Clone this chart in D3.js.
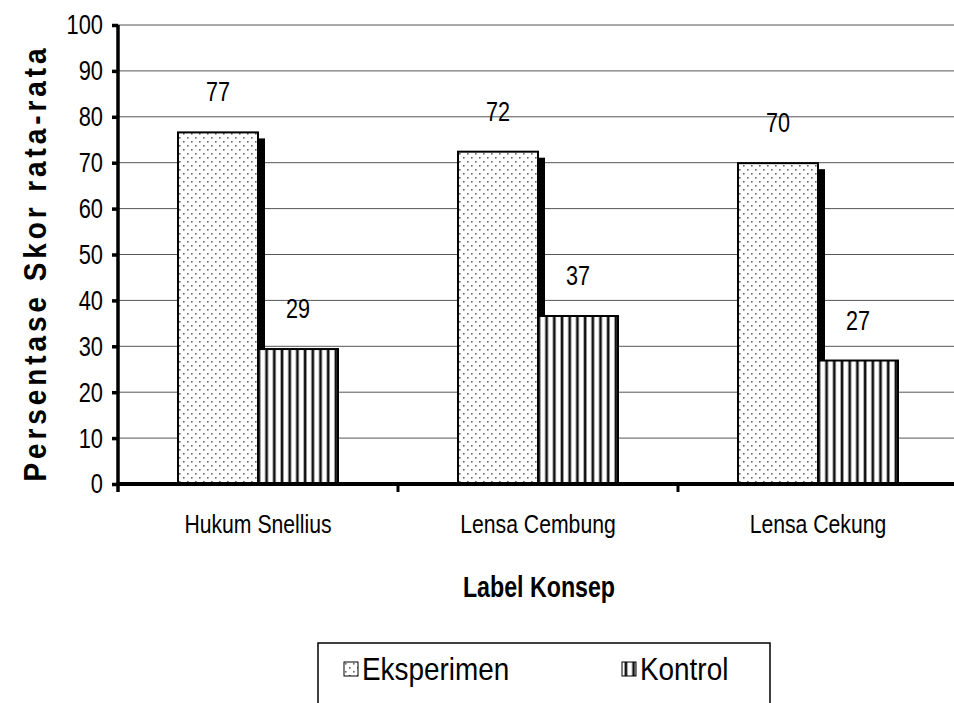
<!DOCTYPE html>
<html>
<head>
<style>
  body { margin: 0; background: #fff; }
  svg text { font-family: "Liberation Sans", Arial, sans-serif; }
</style>
</head>
<body>
<svg id="svg" width="954" height="703"></svg>
<script src="https://d3js.org/d3.v7.min.js"></script>
<script>
const categories = ['Hukum Snellius', 'Lensa Cembung', 'Lensa Cekung']
const series = ['Eksperimen', 'Kontrol']
const eksperimen = [76.6, 72.4, 69.9]
const kontrol = [29.4, 36.6, 26.9]
const valueLabels = [[77, 29], [72, 37], [70, 27]]
const yTicks = [0, 10, 20, 30, 40, 50, 60, 70, 80, 90, 100]

const margin = { top: 25, right: -4, bottom: 219, left: 118 }
const width = 954 - margin.left - margin.right
const height = 703 - margin.top - margin.bottom
const NARROW = 0.8 // fake Arial Narrow by squeezing Liberation Sans

const svg = d3.select('#svg')
const defs = svg.append('defs')

// dotted fill
const dots = defs.append('pattern').attr('id', 'dots')
  .attr('patternUnits', 'userSpaceOnUse').attr('width', 8).attr('height', 8)
dots.append('rect').attr('width', 8).attr('height', 8).attr('fill', '#fff')
dots.append('rect').attr('x', 1).attr('y', 1).attr('width', 1.6).attr('height', 1.6).attr('fill', '#666')
dots.append('rect').attr('x', 5).attr('y', 5).attr('width', 1.6).attr('height', 1.6).attr('fill', '#666')

// vertical stripes
const stripes = defs.append('pattern').attr('id', 'stripes')
  .attr('patternUnits', 'userSpaceOnUse').attr('width', 7.7).attr('height', 8)
stripes.append('rect').attr('width', 7.7).attr('height', 8).attr('fill', '#fff')
stripes.append('rect').attr('x', 2.2).attr('width', 3.4).attr('height', 8).attr('fill', '#888')
stripes.append('rect').attr('x', 2.9).attr('width', 2).attr('height', 8).attr('fill', '#111')

const x = d3.scaleBand().domain(categories).range([margin.left, margin.left + width])
const xs = d3.scaleBand().domain(series).range([0, 160])
const y = d3.scaleLinear().domain([0, 100]).range([margin.top + height, margin.top])

// gridlines
svg.append('g').selectAll('line').data(yTicks.slice(1)).enter().append('line')
  .attr('x1', margin.left).attr('x2', 954)
  .attr('y1', d => y(d)).attr('y2', d => y(d))
  .attr('stroke', '#555').attr('stroke-width', 1)

const data = categories.map((c, i) => ({ c, vals: [eksperimen[i], kontrol[i]], labels: valueLabels[i] }))
const groups = svg.append('g').selectAll('g').data(data).enter().append('g')
  .attr('transform', d => `translate(${x(d.c) + x.bandwidth() / 2 - 80},0)`)

// black side of the eksperimen bar
groups.append('rect')
  .attr('x', xs('Eksperimen') + xs.bandwidth())
  .attr('y', d => y(d.vals[0]) + 6)
  .attr('width', 7)
  .attr('height', d => y(0) - y(d.vals[0]) - 6)
  .attr('fill', '#000')

series.forEach((s, si) => {
  groups.append('rect')
    .attr('x', xs(s))
    .attr('y', d => y(d.vals[si]))
    .attr('width', xs.bandwidth())
    .attr('height', d => y(0) - y(d.vals[si]))
    .attr('fill', si === 0 ? 'url(#dots)' : 'url(#stripes)')
    .attr('stroke', '#000').attr('stroke-width', 2)
  groups.append('text')
    .attr('transform', `scale(${NARROW},1)`)
    .attr('x', (xs(s) + xs.bandwidth() / 2) / NARROW)
    .attr('y', d => y(d.vals[si]) - 31)
    .attr('text-anchor', 'middle')
    .attr('font-size', 27)
    .text(d => d.labels[si])
})

// y axis
const yAxis = d3.axisLeft(y).tickValues(yTicks).tickSize(6).tickPadding(8)
const yg = svg.append('g').attr('transform', `translate(${margin.left},0)`).call(yAxis)
yg.select('.domain').attr('stroke-width', 3.5).attr('d', `M0,${y(100)}V${y(0) + 8}`)
yg.selectAll('.tick line').attr('stroke-width', 3.5)
yg.selectAll('.tick text').attr('font-size', 28)
  .attr('transform', `scale(0.78,1)`)
  .attr('x', -15 / 0.78)
  .attr('font-family', '"Liberation Sans", Arial, sans-serif')

// x axis
const xg = svg.append('g').attr('transform', `translate(0,${y(0)})`)
xg.append('line').attr('x1', margin.left).attr('x2', 954)
  .attr('stroke', '#000').attr('stroke-width', 4)
xg.selectAll('.xt').data(categories.slice(1)).enter().append('line')
  .attr('x1', d => x(d)).attr('x2', d => x(d)).attr('y1', 0).attr('y2', 8)
  .attr('stroke', '#000').attr('stroke-width', 3)
xg.selectAll('text').data(categories).enter().append('text')
  .attr('transform', `scale(${NARROW},1)`)
  .attr('x', d => (x(d) + x.bandwidth() / 2) / NARROW).attr('y', 49)
  .attr('text-anchor', 'middle').attr('font-size', 26.5)
  .text(d => d)

// titles
svg.append('text').attr('transform', `scale(${NARROW},1)`)
  .attr('x', 539 / NARROW).attr('y', 597).attr('text-anchor', 'middle')
  .attr('font-size', 29).attr('font-weight', 'bold').text('Label Konsep')
svg.append('text').attr('transform', `translate(46,263) rotate(-90) scale(0.9,1)`)
  .attr('text-anchor', 'middle').attr('font-size', 31).attr('font-weight', 'bold')
  .attr('letter-spacing', 4.4)
  .text('Persentase Skor rata-rata')

// legend
const lg = svg.append('g')
lg.append('rect').attr('x', 318).attr('y', 643).attr('width', 452).attr('height', 80)
  .attr('fill', '#fff').attr('stroke', '#000').attr('stroke-width', 1.5)
const items = lg.selectAll('.li').data(series).enter().append('g')
  .attr('transform', (d, i) => `translate(${i === 0 ? 344 : 622},662)`)
items.append('rect').attr('width', 14).attr('height', 14)
  .attr('fill', (d, i) => i === 0 ? 'url(#dots)' : 'url(#stripes)')
  .attr('stroke', '#000').attr('stroke-width', 1)
items.append('text').attr('transform', 'scale(0.9,1)')
  .attr('x', 18 / 0.9).attr('y', 18).attr('font-size', 31).text(d => d)
</script>
</body>
</html>
